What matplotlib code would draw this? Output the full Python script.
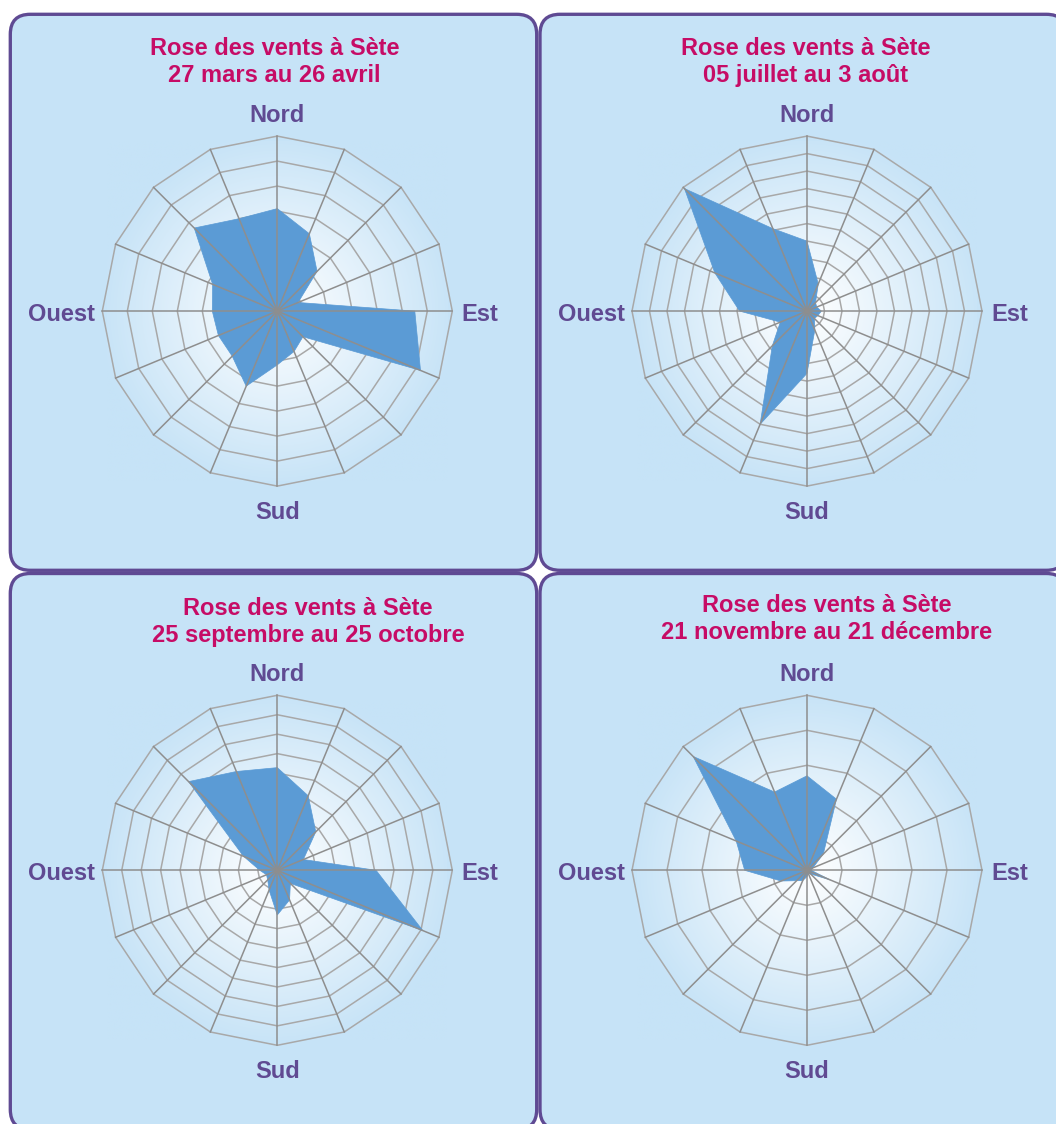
import numpy as np
import matplotlib
matplotlib.use('Agg')
import matplotlib.pyplot as plt
from matplotlib.patches import FancyBboxPatch, Polygon
from matplotlib.colors import to_rgb

plt.rcParams['font.family'] = ['Liberation Sans', 'DejaVu Sans']

# ----------------------------------------------------------------------
# data (16 directions, clockwise from north, values in ring units)
# ----------------------------------------------------------------------
directions = ['N', 'NNE', 'NE', 'ENE', 'E', 'ESE', 'SE', 'SSE',
              'S', 'SSW', 'SW', 'WSW', 'W', 'WNW', 'NW', 'NNW']
compass = ['Nord', 'Est', 'Sud', 'Ouest']

title = 'Rose des vents à Sète'
periods = ['27 mars au 26 avril',
           '05 juillet au 3 août',
           '25 septembre au 25 octobre',
           '21 novembre au 21 décembre']
n_rings = [7, 10, 9, 5]

wind_mar_apr = [4.1, 3.35, 2.25, 0.9, 5.5, 6.2, 1.45, 1.75,
                2.15, 3.25, 2.55, 2.55, 2.6, 2.8, 4.7, 4.0]
wind_jul_aug = [4.0, 1.68, 0.69, 0.6, 0.82, 0.67, 0.6, 1.17,
                3.56, 7.0, 2.8, 1.65, 3.85, 5.7, 9.9, 5.1]
wind_sep_oct = [5.28, 4.15, 2.8, 1.45, 5.08, 8.1, 0.95, 1.65,
                2.3, 1.1, 0.7, 0.6, 0.9, 1.88, 6.45, 5.5]
wind_nov_dec = [2.7, 2.2, 0.66, 0.18, 0.12, 0.72, 0.15, 0.1,
                0.18, 0.32, 0.42, 0.8, 1.78, 2.19, 4.6, 2.42]
series = [wind_mar_apr, wind_jul_aug, wind_sep_oct, wind_nov_dec]

# ----------------------------------------------------------------------
# look
# ----------------------------------------------------------------------
W, H = 1056, 1124
BG = '#c6e3f7'
BORDER = '#5f4a93'
TITLE_COL = '#c60c66'
LABEL_COL = '#604a92'
FILL = '#5b9bd5'
RING_COL = '#a8a8a8'
SPOKE_COL = '#8e8e8e'

box_pos = [(10.3, 14.3), (540, 14.3), (10.3, 573.5), (540, 573.5)]
box_w, box_h = 526.4, 556
center_off = (267, 296.8)
title_x = [274.3, 806, 308, 827]
title_base = [54.7, 54.7, 614.7, 611.7]   # baseline of first title line
R = 175.0      # radar radius in pixels
HALF = 230.0   # half size of radar axes in pixels

fig = plt.figure(figsize=(W / 100, H / 100), dpi=100)
fig.patch.set_facecolor('white')

bg = fig.add_axes([0, 0, 1, 1], zorder=0)
bg.set_xlim(0, W)
bg.set_ylim(H, 0)
bg.axis('off')

theta = np.deg2rad(np.arange(len(directions)) * 360.0 / len(directions))
sx, sy = np.sin(theta), np.cos(theta)

# radial gradient image (white centre -> panel blue)
g = np.linspace(-1, 1, 301)
gx, gy = np.meshgrid(g, g)
gr = np.sqrt(gx ** 2 + gy ** 2) * 170.0
f = np.clip(gr / 180.0, 0, 1)[..., None]
grad = (1 - f) * np.ones(3) + f * np.array(to_rgb(BG))

for i in range(4):
    bx, by = box_pos[i]
    bg.add_patch(FancyBboxPatch((bx, by), box_w, box_h,
                                boxstyle='round,pad=0,rounding_size=20',
                                facecolor=BG, edgecolor=BORDER, linewidth=2.4))
    bg.text(title_x[i], title_base[i], title, ha='center', va='baseline',
            fontsize=17, fontweight='bold', color=TITLE_COL)
    bg.text(title_x[i], title_base[i] + 27.5, periods[i], ha='center', va='baseline',
            fontsize=17, fontweight='bold', color=TITLE_COL)

    cx, cy = bx + center_off[0], by + center_off[1]
    ax = fig.add_axes([(cx - HALF) / W, 1 - (cy + HALF) / H, 2 * HALF / W, 2 * HALF / H],
                      zorder=1)
    ax.set_facecolor('none')
    n = n_rings[i]
    lim = n * HALF / R
    ax.set_xlim(-lim, lim)
    ax.set_ylim(-lim, lim)
    ax.axis('off')

    e = n * 170.0 / R
    ax.imshow(grad, extent=(-e, e, -e, e), zorder=0, interpolation='bilinear')

    # rings
    for k in range(1, n + 1):
        ax.add_patch(Polygon(np.column_stack([k * sx, k * sy]), closed=True,
                             fill=False, edgecolor=RING_COL, linewidth=1.1, zorder=1))

    # data
    v = np.array(series[i])
    ax.add_patch(Polygon(np.column_stack([v * sx, v * sy]), closed=True,
                         facecolor=FILL, edgecolor=FILL, linewidth=0.5, zorder=2))

    # spokes
    for a, b in zip(sx, sy):
        ax.plot([0, n * a], [0, n * b], color=SPOKE_COL, linewidth=1.1, zorder=3)

    lab_kw = dict(fontsize=17, fontweight='bold', color=LABEL_COL, clip_on=False,
                  va='baseline')
    ax.text(0, 1.08 * n, compass[0], ha='center', **lab_kw)
    ax.text(1.051 * n, -0.054 * n, compass[1], ha='left', **lab_kw)
    ax.text(0, -1.186 * n, compass[2], ha='center', **lab_kw)
    ax.text(-1.04 * n, -0.054 * n, compass[3], ha='right', **lab_kw)

fig.savefig('out.png', dpi=100)
